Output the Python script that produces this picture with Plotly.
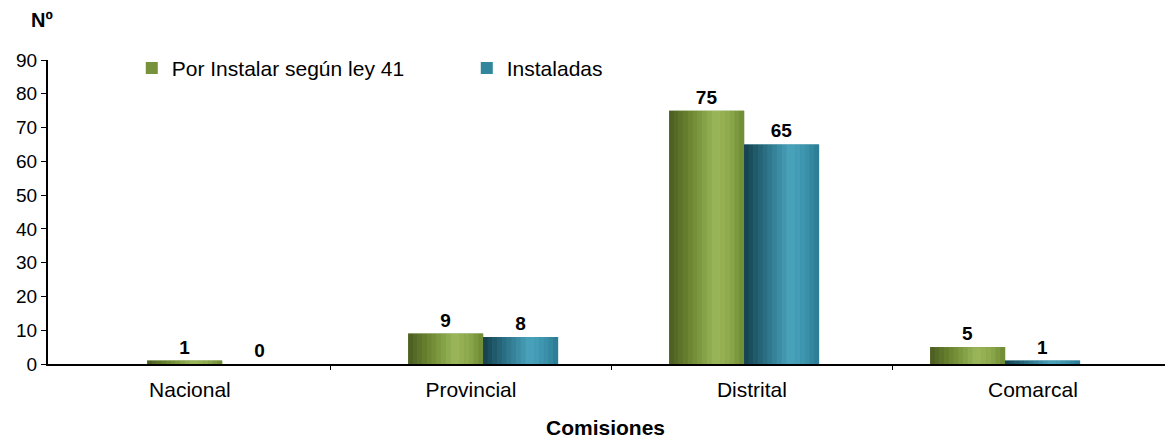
import plotly.graph_objects as go

# ---- data ----
categories = ["Nacional", "Provincial", "Distrital", "Comarcal"]
por_instalar = [1, 9, 75, 5]
instaladas = [0, 8, 65, 1]
series_names = ["Por Instalar según ley 41", "Instaladas"]
y_ticks = [0, 10, 20, 30, 40, 50, 60, 70, 80, 90]

# ---- styling ----
FONT = "Liberation Sans, Arial, sans-serif"
main_colors = ["#76923C", "#31859C"]
# horizontal shading profiles (left -> right) to mimic cylinders
profiles = [
    [(0.0, "#4a5c21"), (0.3, "#6e8932"), (0.62, "#9cb85b"), (0.82, "#8ca84b"), (1.0, "#6d8833")],
    [(0.0, "#163f4c"), (0.3, "#2a7186"), (0.62, "#4ba4be"), (0.82, "#3c93ac"), (1.0, "#2a7a91")],
]
BAR_W = 0.287
N_STRIPS = 16


def hex2rgb(h):
    h = h.lstrip("#")
    return tuple(int(h[i:i + 2], 16) for i in (0, 2, 4))


def color_at(profile, t):
    for (t0, c0), (t1, c1) in zip(profile[:-1], profile[1:]):
        if t0 <= t <= t1:
            f = (t - t0) / (t1 - t0) if t1 > t0 else 0
            a, b = hex2rgb(c0), hex2rgb(c1)
            r = [round(a[i] + (b[i] - a[i]) * f) for i in range(3)]
            return "rgb(%d,%d,%d)" % tuple(r)
    return profile[-1][1]


positions = list(range(len(categories)))
fig = go.Figure()

for s, (name, vals) in enumerate(zip(series_names, [por_instalar, instaladas])):
    base_off = -BAR_W if s == 0 else 0.0
    fig.add_trace(go.Bar(
        x=positions, y=vals, name=name,
        offset=base_off, width=BAR_W,
        marker=dict(color=main_colors[s], line=dict(width=0)),
        text=[str(v) for v in vals], textposition="outside",
        textfont=dict(family=FONT, size=19, color="black", weight="bold"),
        customdata=categories, cliponaxis=False,
        hovertemplate="%{customdata}: %{y}<extra>" + name + "</extra>",
        legendgroup=name,
    ))
    sw = BAR_W / N_STRIPS
    for k in range(N_STRIPS):
        t = (k + 0.5) / N_STRIPS
        fig.add_trace(go.Bar(
            x=positions, y=vals, offset=base_off + k * sw, width=sw * 1.05,
            marker=dict(color=color_at(profiles[s], t), line=dict(width=0)),
            showlegend=False, hoverinfo="skip", legendgroup=name,
        ))

# invisible trace for the category-label axis
fig.add_trace(go.Scatter(
    x=positions, y=por_instalar, xaxis="x2", mode="markers",
    marker=dict(opacity=0), showlegend=False, hoverinfo="skip",
))

fig.update_layout(
    width=1165, height=439,
    margin=dict(l=48, r=0, t=60, b=75),
    paper_bgcolor="white", plot_bgcolor="white",
    barmode="overlay",
    font=dict(family=FONT, size=18, color="black"),
    showlegend=True,
    legend=dict(
        orientation="h", x=0.075, y=1.04, xanchor="left", yanchor="top",
        font=dict(family=FONT, size=21, color="black"),
        entrywidth=290, entrywidthmode="pixels",
        bgcolor="rgba(0,0,0,0)",
    ),
    xaxis=dict(
        range=[-0.667, 3.613], showticklabels=False, ticks="",
        showline=True, linecolor="black", linewidth=2,
        showgrid=False, zeroline=False, fixedrange=True,
    ),
    xaxis2=dict(
        overlaying="x", anchor="y", side="bottom",
        range=[-0.505, 3.47], tickmode="array", tickvals=positions,
        ticktext=categories, ticks="", showline=False, showgrid=False,
        zeroline=False, tickfont=dict(family=FONT, size=21, color="black"),
        ticklabelstandoff=11,
        minor=dict(tickmode="array", tickvals=[p + 0.5 for p in positions[:-1]],
                   ticks="outside", ticklen=5, tickcolor="black", tickwidth=1),
    ),
    yaxis=dict(
        range=[0, 90], tickmode="array", tickvals=y_ticks,
        ticks="outside", ticklen=5, tickcolor="black", tickwidth=1,
        showline=True, linecolor="black", linewidth=2,
        showgrid=False, zeroline=False,
        tickfont=dict(family=FONT, size=19, color="black"),
    ),
    annotations=[
        dict(text="<b>Nº</b>", xref="paper", yref="paper", x=-0.005, y=1.13,
             xanchor="center", yanchor="middle", showarrow=False,
             font=dict(family=FONT, size=20, color="black")),
        dict(text="<b>Comisiones</b>", xref="paper", yref="paper", x=0.499, y=-0.21,
             xanchor="center", yanchor="middle", showarrow=False,
             font=dict(family=FONT, size=21, color="black")),
    ],
)

fig.write_html("out.html", config={"displayModeBar": False},
               post_script="document.body.style.margin='0';")
